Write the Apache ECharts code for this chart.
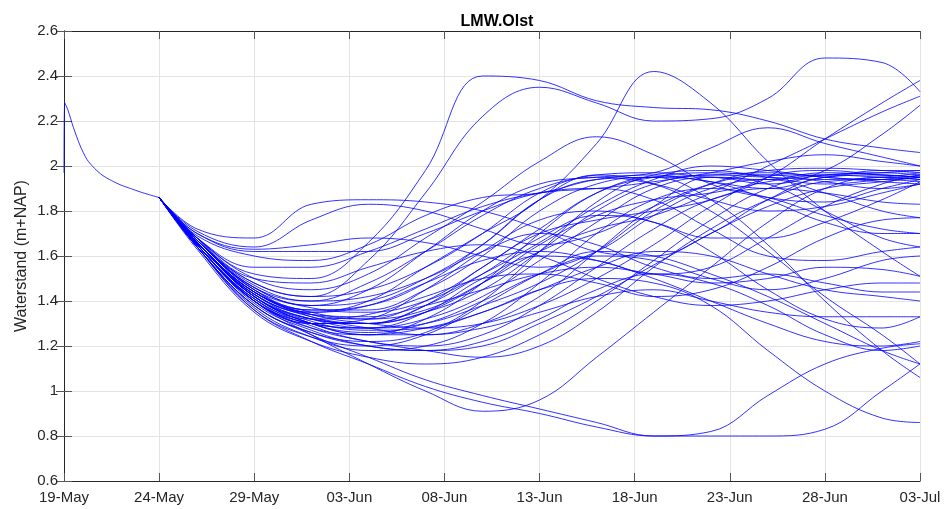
<!DOCTYPE html>
<html>
<head>
<meta charset="utf-8">
<script src="https://cdn.jsdelivr.net/npm/echarts@6/dist/echarts.min.js"></script>
<style>
  html, body { margin: 0; padding: 0; background: #fff; }
  #chart { width: 950px; height: 509px; }
</style>
</head>
<body>
<div id="chart"></div>
<script>
// x tick labels, one every 5 days from 19-May
const tickLabels = ['19-May', '24-May', '29-May', '03-Jun', '08-Jun', '13-Jun', '18-Jun', '23-Jun', '28-Jun', '03-Jul']

// shared forecast start (days after 19-May / waterstand)
const commonDays = [0, 0.04, 0.2, 0.5, 0.85, 1.2, 1.6, 2.0, 2.5, 3, 3.5, 4, 4.5, 5]
const commonLevels = [1.97, 2.28, 2.25, 2.17, 2.09, 2.03, 1.99, 1.96, 1.935, 1.915, 1.90, 1.885, 1.872, 1.86]

// ensemble members, read at these days (first value = shared 1.86 on 24-May)
const memberDays = [5, 7, 10, 13, 16, 19, 22, 25, 28, 31, 34, 37, 40, 43, 45]
const startLevel = 1.86
const m01 = [1.72, 1.68, 1.83, 1.85, 1.84, 1.80, 1.72, 1.62, 1.60, 1.70, 1.85, 1.95, 1.96, 1.95]
const m02 = [1.71, 1.64, 1.76, 1.83, 1.80, 1.72, 1.65, 1.70, 1.82, 1.92, 1.96, 1.93, 1.90, 1.92]
const m03 = [1.70, 1.63, 1.65, 1.68, 1.66, 1.60, 1.55, 1.62, 1.78, 1.90, 1.94, 1.88, 1.80, 1.77]
const m04 = [1.70, 1.62, 1.62, 1.62, 1.70, 1.80, 1.88, 1.90, 1.85, 1.72, 1.60, 1.58, 1.62, 1.64]
const m05 = [1.69, 1.60, 1.58, 1.65, 1.78, 1.86, 1.88, 1.94, 1.96, 1.93, 1.90, 1.95, 1.97, 1.96]
const m06 = [1.68, 1.52, 1.50, 1.66, 1.98, 2.40, 2.38, 2.29, 2.26, 2.25, 2.20, 2.12, 2.08, 2.06]
const m07 = [1.67, 1.48, 1.42, 1.58, 1.88, 2.22, 2.35, 2.28, 2.20, 2.21, 2.30, 2.48, 2.46, 2.33]
const m08 = [1.68, 1.45, 1.35, 1.40, 1.55, 1.70, 1.85, 2.10, 2.42, 2.28, 2.02, 1.80, 1.62, 1.51]
const m09 = [1.68, 1.50, 1.45, 1.52, 1.68, 1.84, 2.02, 2.13, 2.05, 1.92, 1.86, 1.84, 1.90, 1.94]
const m10 = [1.67, 1.46, 1.38, 1.45, 1.62, 1.80, 1.92, 1.95, 1.97, 2.08, 2.17, 2.10, 2.04, 2.00]
const m11 = [1.66, 1.42, 1.32, 1.30, 1.38, 1.55, 1.70, 1.76, 1.80, 1.85, 1.95, 2.12, 2.28, 2.38]
const m12 = [1.66, 1.44, 1.35, 1.32, 1.36, 1.48, 1.62, 1.72, 1.78, 1.88, 2.00, 2.12, 2.24, 2.31]
const m13 = [1.65, 1.40, 1.30, 1.28, 1.32, 1.42, 1.58, 1.75, 1.90, 1.95, 1.92, 1.98, 2.14, 2.27]
const m14 = [1.64, 1.38, 1.25, 1.15, 1.05, 0.98, 0.92, 0.86, 0.80, 0.82, 0.98, 1.12, 1.19, 1.21]
const m15 = [1.64, 1.36, 1.22, 1.12, 1.02, 0.95, 0.90, 0.84, 0.80, 0.80, 0.80, 0.83, 1.00, 1.12]
const m16 = [1.65, 1.40, 1.25, 1.12, 1.00, 0.91, 0.96, 1.15, 1.35, 1.55, 1.75, 1.90, 1.95, 1.94]
const m17 = [1.66, 1.42, 1.30, 1.25, 1.28, 1.35, 1.45, 1.50, 1.48, 1.38, 1.18, 1.00, 0.88, 0.86]
const m18 = [1.65, 1.40, 1.28, 1.22, 1.18, 1.15, 1.20, 1.35, 1.55, 1.72, 1.85, 1.93, 1.94, 1.93]
const m19 = [1.66, 1.43, 1.32, 1.30, 1.35, 1.45, 1.62, 1.80, 1.92, 1.96, 1.95, 1.94, 1.95, 1.97]
const m20 = [1.67, 1.45, 1.36, 1.36, 1.45, 1.60, 1.80, 1.92, 1.95, 1.93, 1.85, 1.75, 1.70, 1.70]
const m21 = [1.66, 1.42, 1.30, 1.26, 1.30, 1.40, 1.52, 1.60, 1.58, 1.50, 1.45, 1.50, 1.58, 1.60]
const m22 = [1.66, 1.44, 1.34, 1.30, 1.28, 1.30, 1.38, 1.50, 1.65, 1.82, 1.95, 1.98, 1.96, 1.95]
const m23 = [1.65, 1.41, 1.29, 1.22, 1.20, 1.25, 1.38, 1.55, 1.72, 1.85, 1.90, 1.88, 1.84, 1.83]
const m24 = [1.67, 1.47, 1.40, 1.42, 1.50, 1.62, 1.70, 1.65, 1.55, 1.50, 1.52, 1.48, 1.44, 1.44]
const m25 = [1.66, 1.44, 1.33, 1.28, 1.25, 1.28, 1.35, 1.42, 1.45, 1.40, 1.35, 1.33, 1.33, 1.33]
const m26 = [1.65, 1.40, 1.30, 1.30, 1.38, 1.52, 1.68, 1.78, 1.75, 1.62, 1.45, 1.32, 1.28, 1.33]
const m27 = [1.66, 1.43, 1.35, 1.38, 1.48, 1.58, 1.62, 1.58, 1.50, 1.40, 1.30, 1.22, 1.20, 1.22]
const m28 = [1.64, 1.38, 1.26, 1.20, 1.18, 1.22, 1.32, 1.45, 1.52, 1.48, 1.38, 1.25, 1.18, 1.20]
const m29 = [1.67, 1.46, 1.38, 1.40, 1.50, 1.65, 1.85, 1.96, 1.92, 1.80, 1.62, 1.42, 1.25, 1.12]
const m30 = [1.66, 1.44, 1.34, 1.32, 1.40, 1.55, 1.72, 1.88, 1.95, 1.85, 1.65, 1.40, 1.18, 1.06]
const m31 = [1.68, 1.50, 1.48, 1.55, 1.62, 1.65, 1.60, 1.50, 1.42, 1.38, 1.40, 1.45, 1.48, 1.48]
const m32 = [1.66, 1.42, 1.30, 1.25, 1.25, 1.30, 1.42, 1.62, 1.82, 1.95, 1.92, 1.80, 1.68, 1.64]
const m33 = [1.65, 1.41, 1.32, 1.34, 1.42, 1.50, 1.52, 1.48, 1.42, 1.45, 1.55, 1.68, 1.76, 1.77]
const m34 = [1.67, 1.48, 1.42, 1.45, 1.55, 1.70, 1.88, 1.96, 1.97, 1.95, 1.94, 1.96, 1.95, 1.94]
const m35 = [1.66, 1.44, 1.36, 1.38, 1.48, 1.65, 1.85, 1.94, 1.95, 1.96, 1.97, 1.95, 1.93, 1.92]
const m36 = [1.65, 1.40, 1.28, 1.25, 1.32, 1.48, 1.70, 1.88, 1.95, 1.97, 1.96, 1.96, 1.98, 1.98]
const m37 = [1.64, 1.38, 1.26, 1.22, 1.26, 1.40, 1.62, 1.84, 1.96, 1.98, 1.95, 1.92, 1.94, 1.96]
const m38 = [1.66, 1.42, 1.32, 1.28, 1.30, 1.38, 1.48, 1.62, 1.80, 1.92, 1.98, 1.99, 1.98, 1.97]
const m39 = [1.65, 1.39, 1.27, 1.20, 1.18, 1.20, 1.30, 1.42, 1.56, 1.70, 1.82, 1.90, 1.93, 1.95]
const m40 = [1.67, 1.46, 1.40, 1.48, 1.62, 1.78, 1.90, 1.95, 1.92, 1.85, 1.80, 1.82, 1.88, 1.92]
const m41 = [1.66, 1.43, 1.33, 1.30, 1.35, 1.48, 1.65, 1.78, 1.85, 1.88, 1.93, 1.97, 1.96, 1.95]
const m42 = [1.64, 1.37, 1.24, 1.18, 1.20, 1.30, 1.48, 1.70, 1.85, 1.90, 1.86, 1.78, 1.72, 1.70]
const m43 = [1.65, 1.40, 1.30, 1.28, 1.35, 1.50, 1.60, 1.58, 1.52, 1.55, 1.68, 1.82, 1.92, 1.96]
const m44 = [1.66, 1.42, 1.31, 1.27, 1.28, 1.35, 1.45, 1.55, 1.62, 1.60, 1.52, 1.45, 1.42, 1.40]
const m45 = [1.65, 1.41, 1.30, 1.32, 1.45, 1.62, 1.76, 1.80, 1.75, 1.68, 1.68, 1.75, 1.85, 1.93]
const m46 = [1.67, 1.45, 1.37, 1.35, 1.40, 1.52, 1.66, 1.82, 1.94, 2.00, 1.98, 1.95, 1.94, 1.95]
const m47 = [1.63, 1.35, 1.22, 1.15, 1.12, 1.15, 1.25, 1.40, 1.58, 1.76, 1.90, 1.96, 1.97, 1.98]
const m48 = [1.64, 1.36, 1.24, 1.20, 1.25, 1.38, 1.52, 1.62, 1.60, 1.52, 1.42, 1.30, 1.18, 1.12]
const m49 = [1.68, 1.55, 1.55, 1.62, 1.72, 1.82, 1.88, 1.90, 1.93, 1.97, 2.02, 2.05, 2.02, 2.00]
const m50 = [1.66, 1.43, 1.34, 1.33, 1.38, 1.45, 1.52, 1.55, 1.52, 1.48, 1.50, 1.55, 1.54, 1.51]

const members = [m01, m02, m03, m04, m05, m06, m07, m08, m09, m10,
  m11, m12, m13, m14, m15, m16, m17, m18, m19, m20,
  m21, m22, m23, m24, m25, m26, m27, m28, m29, m30,
  m31, m32, m33, m34, m35, m36, m37, m38, m39, m40,
  m41, m42, m43, m44, m45, m46, m47, m48, m49, m50]

const font = 'Liberation Sans, Arial, Helvetica, sans-serif'
const axisColor = '#262626'
const lineStyle = { color: '#0000ff', width: 1, opacity: 0.8 }

const series = [
  {
    type: 'line',
    data: commonDays.map((d, i) => [d, commonLevels[i]]),
    smooth: 0.25,
    symbol: 'none',
    lineStyle: lineStyle
  }
].concat(members.map(vals => ({
  type: 'line',
  data: memberDays.map((d, i) => [d, i === 0 ? startLevel : vals[i - 1]]),
  smooth: 0.4,
  symbol: 'none',
  lineStyle: lineStyle
})))

const boxAxis = {
  axisLine: { show: true, lineStyle: { color: axisColor, width: 1 } },
  axisTick: { show: true, inside: true, length: 8, lineStyle: { color: '#555' } },
  splitLine: { show: false },
  axisLabel: { show: false }
}

const option = {
  animation: false,
  backgroundColor: '#fff',
  title: {
    text: 'LMW.Olst',
    left: 492,
    top: 9,
    textAlign: 'center',
    textStyle: { fontFamily: font, fontSize: 16, fontWeight: 'bold', color: '#000' }
  },
  grid: { left: 64, right: 30, top: 31, bottom: 28 },
  xAxis: [
    {
      type: 'value',
      min: 0,
      max: 45,
      interval: 5,
      axisLine: { show: true, lineStyle: { color: axisColor, width: 1 } },
      axisTick: { show: true, inside: true, length: 8, lineStyle: { color: '#555' } },
      splitLine: { show: true, lineStyle: { color: '#e3e3e3', width: 1 } },
      axisLabel: {
        color: '#262626',
        fontFamily: font,
        fontSize: 15,
        margin: 9,
        formatter: v => tickLabels[Math.round(v / 5)] || ''
      }
    },
    Object.assign({ type: 'value', position: 'top', min: 0, max: 45, interval: 5 }, boxAxis)
  ],
  yAxis: [
    {
      type: 'value',
      min: 0.6,
      max: 2.6,
      interval: 0.2,
      name: 'Waterstand (m+NAP)',
      nameLocation: 'middle',
      nameGap: 34,
      nameMoveOverlap: false,
      nameTextStyle: { fontFamily: font, fontSize: 16, color: '#262626' },
      axisLine: { show: true, lineStyle: { color: axisColor, width: 1 } },
      axisTick: { show: true, inside: true, length: 8, lineStyle: { color: '#555' } },
      splitLine: { show: true, lineStyle: { color: '#e3e3e3', width: 1 } },
      axisLabel: {
        color: '#262626',
        fontFamily: font,
        fontSize: 15,
        margin: 6,
        formatter: v => String(+v.toFixed(1))
      }
    },
    Object.assign({ type: 'value', position: 'right', min: 0.6, max: 2.6, interval: 0.2 }, boxAxis)
  ],
  series: series
}

const chart = echarts.init(document.getElementById('chart'))
chart.setOption(option)
</script>
</body>
</html>
